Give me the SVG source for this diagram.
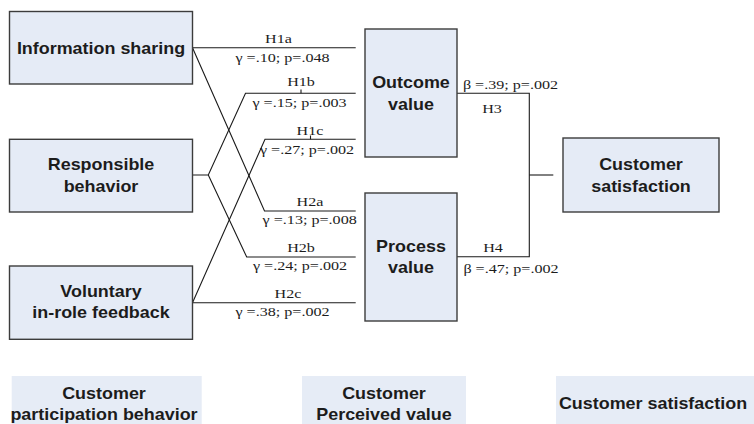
<svg xmlns="http://www.w3.org/2000/svg" width="754" height="424" viewBox="0 0 754 424">
<style>
.box{fill:#e5ebf6;stroke:#3c3c3c;stroke-width:1.4}
.leg{fill:#e6ecf6;stroke:none}
.b{font-family:"Liberation Sans",Arial,sans-serif;font-weight:bold;font-size:16.3px;fill:#1c1c1c;text-anchor:middle}
.s{font-family:"Liberation Serif","Times New Roman",serif;font-size:13px;fill:#1c1c1c;text-anchor:middle}
.ln{fill:none;stroke:#1a1a1a;stroke-width:1.1}
</style>
<rect width="754" height="424" fill="#ffffff"/>
<g id="connectors">
<path class="ln" d="M192.5,47.7 H355.7"/>
<path class="ln" d="M192.5,47.7 L264.5,211 H355.7"/>
<path class="ln" d="M192.5,175 H208.3 L245.5,93.3 H355.7"/>
<path class="ln" d="M208.3,175 L246.7,257 H355.7"/>
<path class="ln" d="M192.5,302.7 L265,139.3 H355.7"/>
<path class="ln" d="M192.5,302.7 H355.7"/>
<path class="ln" d="M457,93.3 H529.3 V256.7 H457"/>
<path class="ln" d="M529.3,175 H553.3"/>
<path class="ln" d="M301,89.5 V93.3 M310.5,135.5 V139.3"/>
</g>
<g id="labels">
<text class="s" transform="translate(278.5,43) scale(1.24,1)">H1a</text>
<text class="s" transform="translate(282.5,62) scale(1.24,1)">γ =.10; p=.048</text>
<text class="s" transform="translate(301,86) scale(1.24,1)">H1b</text>
<text class="s" transform="translate(299.5,107.3) scale(1.24,1)">γ =.15; p=.003</text>
<text class="s" transform="translate(310,135) scale(1.24,1)">H1c</text>
<text class="s" transform="translate(307,154) scale(1.24,1)">γ =.27; p=.002</text>
<text class="s" transform="translate(310,206) scale(1.24,1)">H2a</text>
<text class="s" transform="translate(309.7,224.3) scale(1.24,1)">γ =.13; p=.008</text>
<text class="s" transform="translate(301,252.3) scale(1.24,1)">H2b</text>
<text class="s" transform="translate(300,270) scale(1.24,1)">γ =.24; p=.002</text>
<text class="s" transform="translate(288,297.7) scale(1.24,1)">H2c</text>
<text class="s" transform="translate(282.5,315.5) scale(1.24,1)">γ =.38; p=.002</text>
<text class="s" transform="translate(510.5,89.3) scale(1.24,1)">β =.39; p=.002</text>
<text class="s" transform="translate(492,112.7) scale(1.24,1)">H3</text>
<text class="s" transform="translate(493,251.7) scale(1.24,1)">H4</text>
<text class="s" transform="translate(511,272.7) scale(1.24,1)">β =.47; p=.002</text>
</g>
<g id="info-sharing">
<rect class="box" x="9.5" y="11.5" width="183" height="72.5"/>
<text class="b" transform="translate(101,53.5) scale(1.1,1)">Information sharing</text>
</g>
<g id="responsible-behavior">
<rect class="box" x="9.5" y="139.3" width="183" height="72.7"/>
<text class="b" transform="translate(101,170) scale(1.1,1)"><tspan x="0" y="0">Responsible</tspan><tspan x="0" y="21.7">behavior</tspan></text>
</g>
<g id="voluntary-feedback">
<rect class="box" x="9.5" y="266" width="183" height="73.3"/>
<text class="b" transform="translate(101,296.7) scale(1.1,1)"><tspan x="0" y="0">Voluntary</tspan><tspan x="0" y="21.7">in-role feedback</tspan></text>
</g>
<g id="outcome-value">
<rect class="box" x="365" y="29" width="92" height="128"/>
<text class="b" transform="translate(411,87.7) scale(1.1,1)"><tspan x="0" y="0">Outcome</tspan><tspan x="0" y="22.3">value</tspan></text>
</g>
<g id="process-value">
<rect class="box" x="365" y="193" width="92" height="128"/>
<text class="b" transform="translate(411,251.5) scale(1.1,1)"><tspan x="0" y="0">Process</tspan><tspan x="0" y="22">value</tspan></text>
</g>
<g id="customer-satisfaction">
<rect class="box" x="563" y="138" width="156" height="74"/>
<text class="b" transform="translate(641,170) scale(1.1,1)"><tspan x="0" y="0">Customer</tspan><tspan x="0" y="21.7">satisfaction</tspan></text>
</g>
<g id="legend-participation">
<rect class="leg" x="11.7" y="376" width="190" height="48"/>
<text class="b" transform="translate(104,399.3) scale(1.1,1)"><tspan x="0" y="0">Customer</tspan><tspan x="0" y="20.7">participation behavior</tspan></text>
</g>
<g id="legend-perceived">
<rect class="leg" x="302" y="376" width="164" height="48"/>
<text class="b" transform="translate(384,399.3) scale(1.1,1)"><tspan x="0" y="0">Customer</tspan><tspan x="0" y="20.7">Perceived value</tspan></text>
</g>
<g id="legend-satisfaction">
<rect class="leg" x="556" y="376" width="198" height="48"/>
<text class="b" transform="translate(653,409) scale(1.1,1)">Customer satisfaction</text>
</g>
</svg>
